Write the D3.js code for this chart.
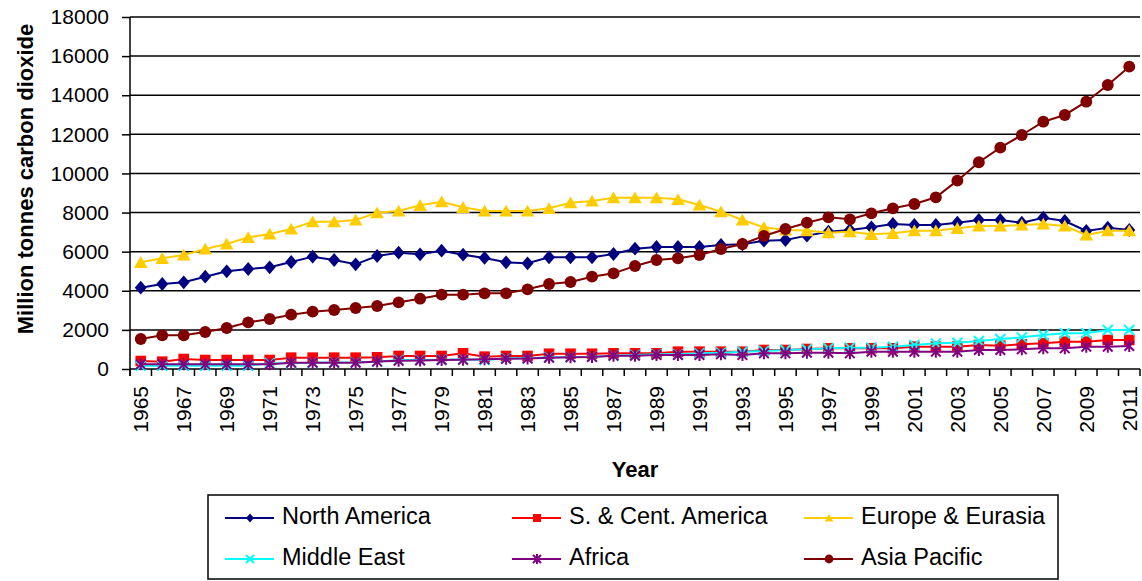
<!DOCTYPE html>
<html><head><meta charset="utf-8">
<script src="https://cdn.jsdelivr.net/npm/d3@7"></script>
<style>
body{margin:0;background:#fff;}
svg{display:block;font-family:"Liberation Sans",Arial,sans-serif;}
</style></head>
<body>
<svg id="chart" width="1142" height="581"></svg>
<script>
const years = [1965,1966,1967,1968,1969,1970,1971,1972,1973,1974,1975,1976,1977,1978,1979,1980,1981,1982,1983,1984,1985,1986,1987,1988,1989,1990,1991,1992,1993,1994,1995,1996,1997,1998,1999,2000,2001,2002,2003,2004,2005,2006,2007,2008,2009,2010,2011];
const yTicks = [0,2000,4000,6000,8000,10000,12000,14000,16000,18000];
const xLabelYears = years.filter((y,i)=>i%2===0);

const northAmerica = [4158,4347,4432,4722,4995,5114,5200,5472,5745,5574,5353,5779,5949,5864,6051,5847,5680,5455,5404,5711,5711,5711,5881,6153,6239,6239,6239,6341,6375,6563,6597,6820,7023,7108,7245,7415,7364,7364,7483,7620,7620,7483,7738,7568,7057,7228,7108];
const southCentAmerica = [409,375,511,460,460,460,460,580,580,580,580,597,665,665,665,801,631,665,665,780,780,780,801,801,801,886,886,886,886,972,972,1023,1057,1057,1057,1057,1142,1142,1142,1227,1193,1261,1312,1398,1398,1483,1483];
const europeEurasia = [5455,5660,5830,6137,6392,6733,6904,7159,7534,7534,7620,7994,8080,8370,8557,8268,8080,8080,8080,8216,8506,8591,8762,8762,8762,8676,8387,8046,7620,7245,7108,7080,6972,7023,6887,6938,7074,7074,7194,7313,7313,7364,7415,7313,6853,7074,7074];
const middleEast = [170,170,170,170,170,170,290,300,320,330,340,375,460,460,470,494,460,545,545,597,597,631,682,716,750,750,801,835,886,920,972,1006,1057,1091,1091,1142,1227,1312,1346,1432,1534,1619,1739,1824,1824,1994,1994];
const africa = [238,238,238,238,238,238,238,324,324,324,324,380,420,440,460,470,500,520,540,580,600,620,682,682,716,716,716,750,716,801,801,835,835,801,886,886,886,886,886,972,972,1006,1057,1057,1142,1142,1176];
const asiaPacific = [1534,1722,1722,1892,2097,2386,2557,2778,2932,3017,3119,3222,3409,3596,3801,3801,3869,3869,4074,4347,4449,4722,4892,5267,5574,5660,5830,6137,6392,6802,7159,7483,7756,7653,7960,8216,8438,8779,9631,10570,11318,11966,12647,12990,13670,14524,15460];

const seriesNames = ["North America","S. & Cent. America","Europe & Eurasia","Middle East","Africa","Asia Pacific"];
const seriesValues = [northAmerica,southCentAmerica,europeEurasia,middleEast,africa,asiaPacific];
const seriesColors = ["#000080","#FF0000","#FFCC00","#00FFFF","#800080","#800000"];
const seriesMarkers = ["diamond","square","triangle","x","star","circle"];

const svg = d3.select("#chart");
const L=130, R=1140, T=17, B=369;
const x = d3.scaleBand().domain(years).range([L,R]).padding(0);
const y = d3.scaleLinear().domain([0,18000]).range([B,T]);
const cx = d => x(d)+x.bandwidth()/2;

// gridlines
svg.append("g").selectAll("line").data(yTicks.filter(v=>v>0)).join("line")
  .attr("x1",L).attr("x2",R).attr("y1",d=>y(d)).attr("y2",d=>y(d))
  .attr("stroke","#000").attr("stroke-width",1.5);

// y axis
const ya = svg.append("g").attr("transform",`translate(${L},0)`)
  .call(d3.axisLeft(y).tickValues(yTicks).tickSize(8).tickPadding(13).tickFormat(d3.format("d")));
ya.select(".domain").attr("stroke","#000").attr("stroke-width",1.5).attr("d",`M-0,${B+7}V${T}`);
ya.selectAll(".tick line").attr("stroke","#000").attr("stroke-width",1.5);
ya.selectAll(".tick text").attr("font-size","21px").attr("fill","#000").attr("font-family","Liberation Sans, Arial, sans-serif");

// x axis line
svg.append("line").attr("x1",L).attr("x2",R).attr("y1",B).attr("y2",B).attr("stroke","#000").attr("stroke-width",1.5);
// boundary ticks
const bounds = years.map(d=>x(d)).concat([x(years[years.length-1])+x.bandwidth()]);
svg.append("g").selectAll("line").data(bounds).join("line")
  .attr("x1",d=>d).attr("x2",d=>d).attr("y1",B).attr("y2",B+7)
  .attr("stroke","#000").attr("stroke-width",1.5);
// x labels
svg.append("g").selectAll("text").data(xLabelYears).join("text")
  .attr("transform",d=>`translate(${cx(d)},386) rotate(-90)`)
  .attr("text-anchor","end").attr("dy","0.36em")
  .attr("font-size","21px").attr("fill","#000").text(d=>d);

// titles
svg.append("text").attr("transform","translate(33,179) rotate(-90)")
  .attr("text-anchor","middle").attr("font-weight","bold").attr("font-size","22px").text("Million tonnes carbon dioxide");
svg.append("text").attr("x",(L+R)/2).attr("y",477).attr("text-anchor","middle")
  .attr("font-weight","bold").attr("font-size","22px").text("Year");

function drawMarker(g, type, color, s){
  if(type==="diamond"){
    g.append("path").attr("d",`M0,${-s*1.15}L${s},0L0,${s*1.15}L${-s},0Z`).attr("fill",color);
  } else if(type==="square"){
    g.append("rect").attr("x",-s).attr("y",-s).attr("width",2*s).attr("height",2*s).attr("fill",color);
  } else if(type==="triangle"){
    g.append("path").attr("d",`M0,${-s*1.0}L${s*1.1},${s*0.9}L${-s*1.1},${s*0.9}Z`).attr("fill",color);
  } else if(type==="x"){
    g.append("path").attr("d",`M${-s},${-s}L${s},${s}M${-s},${s}L${s},${-s}`).attr("stroke",color).attr("stroke-width",2).attr("fill","none");
  } else if(type==="star"){
    g.append("path").attr("d",`M${-s},${-s}L${s},${s}M${-s},${s}L${s},${-s}M0,${-s*1.25}L0,${s*1.25}`).attr("stroke",color).attr("stroke-width",2).attr("fill","none");
  } else if(type==="circle"){
    g.append("circle").attr("r",s*1.1).attr("fill",color);
  }
}
const markerSize = {diamond:6,square:5.3,triangle:6.2,x:5,star:4.8,circle:5.4};

const line = d3.line().x(d=>cx(d.year)).y(d=>y(d.v));
seriesValues.forEach((vals,si)=>{
  const data = years.map((yr,i)=>({year:yr,v:vals[i]}));
  const g = svg.append("g");
  g.append("path").datum(data).attr("d",line).attr("fill","none")
    .attr("stroke",seriesColors[si]).attr("stroke-width",2);
  g.selectAll("g.m").data(data).join("g").attr("class","m")
    .attr("transform",d=>`translate(${cx(d.year)},${y(d.v)})`)
    .each(function(){ drawMarker(d3.select(this), seriesMarkers[si], seriesColors[si], markerSize[seriesMarkers[si]]); });
});

// legend
const lg = svg.append("g");
lg.append("rect").attr("x",208).attr("y",495).attr("width",850).attr("height",84)
  .attr("fill","#fff").attr("stroke","#000").attr("stroke-width",1.5);
const colX = [225,512,804];
const rowY = [518,559];
seriesNames.forEach((name,i)=>{
  const c=i%3, r=Math.floor(i/3);
  const gx = colX[c], gy=rowY[r];
  const it = lg.append("g").attr("transform",`translate(${gx},${gy})`);
  it.append("line").attr("x1",0).attr("x2",49).attr("y1",0).attr("y2",0).attr("stroke",seriesColors[i]).attr("stroke-width",2);
  const mg = it.append("g").attr("transform","translate(25,0)");
  drawMarker(mg, seriesMarkers[i], seriesColors[i], 4);
  it.append("text").attr("x",57).attr("y",6).attr("font-size","23.5px").attr("fill","#000").text(name);
});
</script>
</body></html>
